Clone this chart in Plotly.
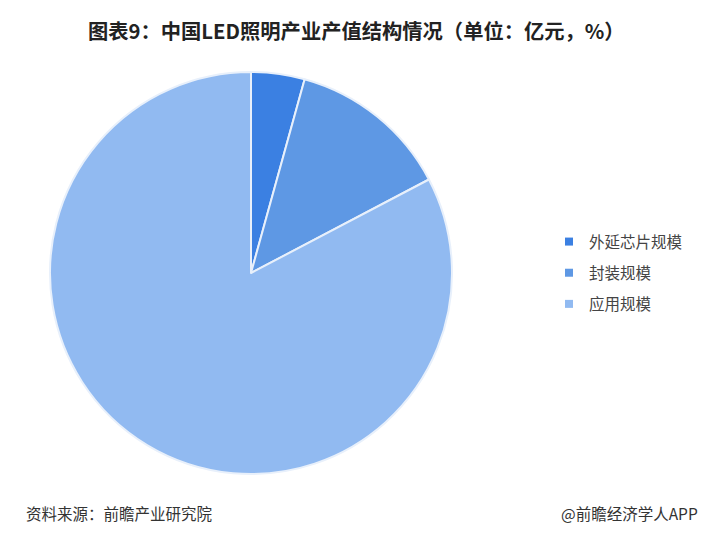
import plotly.graph_objects as go

labels = ["外延芯片规模", "封装规模", "应用规模"]
values = [4.3, 13.0, 82.7]
colors = ["#3b80e2", "#5e98e4", "#91baf1"]

W, H = 720, 544
OFF = 8  # page body margin
cx, cy, r = 251 - OFF, 273 - OFF, 201

fig = go.Figure()
fig.add_trace(go.Pie(
    labels=labels, values=values, sort=False, direction="clockwise", rotation=0,
    marker=dict(colors=colors, line=dict(color="#e8f0fb", width=2)),
    textinfo="none", hoverinfo="label+value+percent", showlegend=False,
    domain=dict(x=[(cx - r) / W, (cx + r) / W], y=[(H - cy - r) / H, (H - cy + r) / H]),
))
for lab, col in zip(labels, colors):
    fig.add_trace(go.Scatter(x=[None], y=[None], mode="markers", name=lab, legendgroup=lab,
                             marker=dict(symbol="square", size=8, color=col), hoverinfo="skip"))

fig.update_layout(
    width=W, height=H, margin=dict(l=0, r=0, t=0, b=0),
    paper_bgcolor="white", plot_bgcolor="white",
    xaxis=dict(visible=False), yaxis=dict(visible=False),
    font=dict(family="Noto Sans CJK SC", color="#333333"),
    legend=dict(x=(549 - OFF) / W, y=1 - (273 - OFF) / H, xanchor="left", yanchor="middle",
                font=dict(size=15.5, color="#444444"), tracegroupgap=8, itemwidth=30),
    annotations=[
        dict(text="<b>图表9：中国LED照明产业产值结构情况（单位：亿元，%）</b>", x=(356 - OFF) / W, y=1 - (30 - OFF) / H,
             xref="paper", yref="paper", showarrow=False, xanchor="center", yanchor="middle",
             font=dict(size=20.3, color="#222222")),
        dict(text="资料来源：前瞻产业研究院", x=(24 - OFF) / W, y=1 - (513 - OFF) / H, xref="paper", yref="paper",
             showarrow=False, xanchor="left", yanchor="middle", font=dict(size=15.5, color="#333333")),
        dict(text="@前瞻经济学人APP", x=(700 - OFF) / W, y=1 - (513 - OFF) / H, xref="paper", yref="paper",
             showarrow=False, xanchor="right", yanchor="middle", font=dict(size=15.5, color="#333333")),
    ],
)

fig.write_html("out.html")
